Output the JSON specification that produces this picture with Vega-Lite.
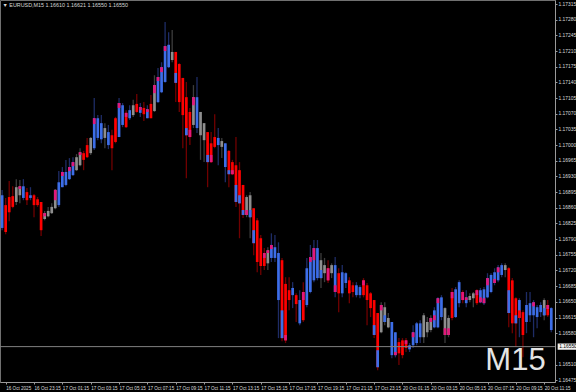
{
"$schema":"https://vega.github.io/schema/vega-lite/v6.json",
"width":555,"height":382,
"autosize":{"type":"none"},
"padding":{"left":0,"top":0,"right":21,"bottom":10},
"background":"#000000",
"title":{"text":"▼ EURUSD,M15  1.16610 1.16621 1.16550 1.16550","anchor":"start","orient":"top","offset":-8,"dx":3,"fontSize":5.4,"font":"Liberation Sans","fontWeight":"normal","color":"#d8d8d8"},
"config":{"view":{"stroke":"#707070","strokeWidth":1},"axis":{"grid":false,"domainColor":"#9a9a9a","tickColor":"#9a9a9a","labelColor":"#dcdcdc","labelFont":"Liberation Sans","labelFontSize":4.8,"tickSize":2,"title":null,"labelOverlap":false}},
"datasets":{
"segs":[
{"i":4,"a":1.16908,"b":1.16902,"col":"magenta"},
{"i":11,"a":1.16848,"b":1.16841,"col":"magenta"},
{"i":14,"a":1.16900,"b":1.16877,"col":"magenta"},
{"i":16,"a":1.16940,"b":1.16931,"col":"magenta"},
{"i":18,"a":1.16951,"b":1.16942,"col":"magenta"},
{"i":19,"a":1.16962,"b":1.16953,"col":"magenta"},
{"i":21,"a":1.16984,"b":1.16978,"col":"magenta"},
{"i":25,"a":1.17060,"b":1.17047,"col":"magenta"},
{"i":32,"a":1.17094,"b":1.17083,"col":"magenta"},
{"i":34,"a":1.17072,"b":1.17063,"col":"magenta"},
{"i":38,"a":1.17085,"b":1.17078,"col":"magenta"},
{"i":40,"a":1.17080,"b":1.17074,"col":"magenta"},
{"i":42,"a":1.17134,"b":1.17116,"col":"magenta"},
{"i":43,"a":1.17152,"b":1.17143,"col":"magenta"},
{"i":44,"a":1.17174,"b":1.17163,"col":"magenta"},
{"i":45,"a":1.17221,"b":1.17210,"col":"magenta"},
{"i":48,"a":1.17161,"b":1.17139,"col":"blue"},
{"i":51,"a":1.17038,"b":1.17022,"col":"blue"},
{"i":52,"a":1.17034,"b":1.17018,"col":"magenta"},
{"i":53,"a":1.17107,"b":1.17089,"col":"magenta"},
{"i":57,"a":1.16978,"b":1.16962,"col":"blue"},
{"i":58,"a":1.16978,"b":1.16962,"col":"magenta"},
{"i":63,"a":1.16944,"b":1.16935,"col":"blue"},
{"i":64,"a":1.16944,"b":1.16935,"col":"magenta"},
{"i":65,"a":1.16911,"b":1.16873,"col":"blue"},
{"i":66,"a":1.16888,"b":1.16870,"col":"blue"},
{"i":67,"a":1.16855,"b":1.16844,"col":"blue"},
{"i":68,"a":1.16855,"b":1.16844,"col":"magenta"},
{"i":69,"a":1.16855,"b":1.16839,"col":"blue"},
{"i":70,"a":1.16810,"b":1.16781,"col":"blue"},
{"i":73,"a":1.16759,"b":1.16748,"col":"magenta"},
{"i":74,"a":1.16765,"b":1.16759,"col":"magenta"},
{"i":75,"a":1.16777,"b":1.16768,"col":"magenta"},
{"i":78,"a":1.16631,"b":1.16569,"col":"blue"},
{"i":79,"a":1.16576,"b":1.16564,"col":"magenta"},
{"i":84,"a":1.16672,"b":1.16654,"col":"magenta"},
{"i":86,"a":1.16750,"b":1.16739,"col":"magenta"},
{"i":87,"a":1.16770,"b":1.16743,"col":"magenta"},
{"i":89,"a":1.16721,"b":1.16703,"col":"blue"},
{"i":91,"a":1.16725,"b":1.16698,"col":"magenta"},
{"i":93,"a":1.16687,"b":1.16672,"col":"magenta"},
{"i":101,"a":1.16698,"b":1.16687,"col":"magenta"},
{"i":104,"a":1.16598,"b":1.16576,"col":"blue"},
{"i":105,"a":1.16542,"b":1.16504,"col":"blue"},
{"i":106,"a":1.16643,"b":1.16631,"col":"magenta"},
{"i":107,"a":1.16620,"b":1.16605,"col":"blue"},
{"i":110,"a":1.16538,"b":1.16531,"col":"magenta"},
{"i":113,"a":1.16564,"b":1.16556,"col":"magenta"},
{"i":115,"a":1.16582,"b":1.16571,"col":"magenta"},
{"i":120,"a":1.16614,"b":1.16605,"col":"magenta"},
{"i":121,"a":1.16620,"b":1.16609,"col":"magenta"},
{"i":122,"a":1.16658,"b":1.16647,"col":"magenta"},
{"i":124,"a":1.16591,"b":1.16576,"col":"magenta"},
{"i":125,"a":1.16591,"b":1.16576,"col":"magenta"},
{"i":126,"a":1.16672,"b":1.16658,"col":"magenta"},
{"i":129,"a":1.16672,"b":1.16654,"col":"magenta"},
{"i":130,"a":1.16660,"b":1.16654,"col":"magenta"},
{"i":133,"a":1.16676,"b":1.16665,"col":"magenta"},
{"i":134,"a":1.16660,"b":1.16649,"col":"magenta"},
{"i":135,"a":1.16658,"b":1.16647,"col":"magenta"},
{"i":136,"a":1.16703,"b":1.16687,"col":"magenta"},
{"i":138,"a":1.16701,"b":1.16692,"col":"magenta"},
{"i":139,"a":1.16727,"b":1.16716,"col":"magenta"},
{"i":142,"a":1.16676,"b":1.16625,"col":"blue"},
{"i":144,"a":1.16620,"b":1.16602,"col":"blue"},
{"i":145,"a":1.16631,"b":1.16614,"col":"red"},
{"i":149,"a":1.16649,"b":1.16640,"col":"magenta"},
{"i":152,"a":1.16636,"b":1.16620,"col":"blue"},
{"i":153,"a":1.16643,"b":1.16634,"col":"magenta"}
]},
"data":{"values":[
{"i":-1,"o":1.16815,"h":1.16900,"l":1.16810,"c":1.16888,"col":"blue"},
{"i":0,"o":1.16866,"h":1.16882,"l":1.16801,"c":1.16806,"col":"red"},
{"i":1,"o":1.16884,"h":1.16920,"l":1.16830,"c":1.16850,"col":"red"},
{"i":2,"o":1.16886,"h":1.16908,"l":1.16859,"c":1.16862,"col":"red"},
{"i":3,"o":1.16906,"h":1.16924,"l":1.16866,"c":1.16873,"col":"gray"},
{"i":4,"o":1.16908,"h":1.16922,"l":1.16870,"c":1.16888,"col":"gray"},
{"i":5,"o":1.16882,"h":1.16924,"l":1.16877,"c":1.16908,"col":"blue"},
{"i":6,"o":1.16895,"h":1.16904,"l":1.16866,"c":1.16877,"col":"red"},
{"i":7,"o":1.16882,"h":1.16906,"l":1.16877,"c":1.16888,"col":"blue"},
{"i":8,"o":1.16888,"h":1.16891,"l":1.16839,"c":1.16866,"col":"red"},
{"i":9,"o":1.16879,"h":1.16884,"l":1.16862,"c":1.16866,"col":"red"},
{"i":10,"o":1.16873,"h":1.16873,"l":1.16797,"c":1.16810,"col":"red"},
{"i":11,"o":1.16848,"h":1.16853,"l":1.16832,"c":1.16835,"col":"gray"},
{"i":12,"o":1.16853,"h":1.16862,"l":1.16839,"c":1.16841,"col":"gray"},
{"i":13,"o":1.16862,"h":1.16870,"l":1.16846,"c":1.16848,"col":"gray"},
{"i":14,"o":1.16900,"h":1.16902,"l":1.16857,"c":1.16859,"col":"gray"},
{"i":15,"o":1.16866,"h":1.16942,"l":1.16862,"c":1.16917,"col":"blue"},
{"i":16,"o":1.16906,"h":1.16951,"l":1.16906,"c":1.16940,"col":"blue"},
{"i":17,"o":1.16911,"h":1.16967,"l":1.16908,"c":1.16940,"col":"blue"},
{"i":18,"o":1.16924,"h":1.16971,"l":1.16922,"c":1.16951,"col":"blue"},
{"i":19,"o":1.16933,"h":1.16973,"l":1.16931,"c":1.16962,"col":"blue"},
{"i":20,"o":1.16973,"h":1.16980,"l":1.16942,"c":1.16944,"col":"gray"},
{"i":21,"o":1.16984,"h":1.16993,"l":1.16953,"c":1.16955,"col":"gray"},
{"i":22,"o":1.16982,"h":1.16987,"l":1.16944,"c":1.16967,"col":"red"},
{"i":23,"o":1.17000,"h":1.17016,"l":1.16971,"c":1.16973,"col":"red"},
{"i":24,"o":1.17016,"h":1.17018,"l":1.16978,"c":1.16982,"col":"gray"},
{"i":25,"o":1.16993,"h":1.17105,"l":1.16989,"c":1.17060,"col":"blue"},
{"i":26,"o":1.17016,"h":1.17067,"l":1.17011,"c":1.17060,"col":"blue"},
{"i":27,"o":1.17013,"h":1.17067,"l":1.17004,"c":1.17049,"col":"blue"},
{"i":28,"o":1.17038,"h":1.17049,"l":1.16993,"c":1.17016,"col":"gray"},
{"i":29,"o":1.17000,"h":1.17045,"l":1.16991,"c":1.17029,"col":"blue"},
{"i":30,"o":1.17022,"h":1.17034,"l":1.16944,"c":1.16993,"col":"red"},
{"i":31,"o":1.17060,"h":1.17063,"l":1.17004,"c":1.17007,"col":"red"},
{"i":32,"o":1.17018,"h":1.17105,"l":1.17018,"c":1.17094,"col":"blue"},
{"i":33,"o":1.17045,"h":1.17094,"l":1.17040,"c":1.17089,"col":"blue"},
{"i":34,"o":1.17072,"h":1.17078,"l":1.17038,"c":1.17040,"col":"red"},
{"i":35,"o":1.17060,"h":1.17089,"l":1.17056,"c":1.17078,"col":"blue"},
{"i":36,"o":1.17089,"h":1.17101,"l":1.17063,"c":1.17067,"col":"gray"},
{"i":37,"o":1.17092,"h":1.17114,"l":1.17072,"c":1.17074,"col":"red"},
{"i":38,"o":1.17072,"h":1.17094,"l":1.17063,"c":1.17085,"col":"blue"},
{"i":39,"o":1.17083,"h":1.17096,"l":1.17054,"c":1.17069,"col":"red"},
{"i":40,"o":1.17060,"h":1.17089,"l":1.17060,"c":1.17080,"col":"blue"},
{"i":41,"o":1.17092,"h":1.17112,"l":1.17060,"c":1.17060,"col":"red"},
{"i":42,"o":1.17134,"h":1.17156,"l":1.17074,"c":1.17076,"col":"gray"},
{"i":43,"o":1.17096,"h":1.17172,"l":1.17094,"c":1.17152,"col":"blue"},
{"i":44,"o":1.17118,"h":1.17185,"l":1.17116,"c":1.17174,"col":"blue"},
{"i":45,"o":1.17141,"h":1.17275,"l":1.17139,"c":1.17221,"col":"blue"},
{"i":46,"o":1.17174,"h":1.17252,"l":1.17172,"c":1.17224,"col":"blue"},
{"i":47,"o":1.17208,"h":1.17257,"l":1.17185,"c":1.17190,"col":"gray"},
{"i":48,"o":1.17208,"h":1.17208,"l":1.17096,"c":1.17139,"col":"red"},
{"i":49,"o":1.17181,"h":1.17183,"l":1.17074,"c":1.17096,"col":"red"},
{"i":50,"o":1.17150,"h":1.17150,"l":1.16993,"c":1.17067,"col":"red"},
{"i":51,"o":1.17107,"h":1.17141,"l":1.16926,"c":1.17022,"col":"red"},
{"i":52,"o":1.17074,"h":1.17083,"l":1.17000,"c":1.17018,"col":"red"},
{"i":53,"o":1.17107,"h":1.17134,"l":1.17038,"c":1.17045,"col":"gray"},
{"i":54,"o":1.17038,"h":1.17152,"l":1.17027,"c":1.17107,"col":"blue"},
{"i":55,"o":1.17074,"h":1.17074,"l":1.16967,"c":1.17022,"col":"gray"},
{"i":56,"o":1.17049,"h":1.17049,"l":1.16962,"c":1.17011,"col":"gray"},
{"i":57,"o":1.17029,"h":1.17029,"l":1.16906,"c":1.16962,"col":"red"},
{"i":58,"o":1.17004,"h":1.17029,"l":1.16960,"c":1.16962,"col":"red"},
{"i":59,"o":1.17018,"h":1.17069,"l":1.16993,"c":1.16996,"col":"red"},
{"i":60,"o":1.17000,"h":1.17038,"l":1.16955,"c":1.17016,"col":"blue"},
{"i":61,"o":1.17009,"h":1.17016,"l":1.16971,"c":1.16996,"col":"gray"},
{"i":62,"o":1.16951,"h":1.17004,"l":1.16917,"c":1.17004,"col":"blue"},
{"i":63,"o":1.16987,"h":1.16989,"l":1.16906,"c":1.16935,"col":"red"},
{"i":64,"o":1.16962,"h":1.16967,"l":1.16933,"c":1.16935,"col":"red"},
{"i":65,"o":1.16955,"h":1.17018,"l":1.16862,"c":1.16873,"col":"red"},
{"i":66,"o":1.16944,"h":1.16962,"l":1.16792,"c":1.16870,"col":"red"},
{"i":67,"o":1.16911,"h":1.16911,"l":1.16837,"c":1.16844,"col":"red"},
{"i":68,"o":1.16884,"h":1.16888,"l":1.16839,"c":1.16844,"col":"gray"},
{"i":69,"o":1.16888,"h":1.16895,"l":1.16792,"c":1.16839,"col":"gray"},
{"i":70,"o":1.16859,"h":1.16859,"l":1.16754,"c":1.16781,"col":"red"},
{"i":71,"o":1.16832,"h":1.16837,"l":1.16716,"c":1.16739,"col":"red"},
{"i":72,"o":1.16792,"h":1.16799,"l":1.16710,"c":1.16730,"col":"red"},
{"i":73,"o":1.16759,"h":1.16770,"l":1.16721,"c":1.16730,"col":"red"},
{"i":74,"o":1.16765,"h":1.16772,"l":1.16721,"c":1.16736,"col":"gray"},
{"i":75,"o":1.16748,"h":1.16803,"l":1.16739,"c":1.16777,"col":"blue"},
{"i":76,"o":1.16748,"h":1.16799,"l":1.16739,"c":1.16772,"col":"blue"},
{"i":77,"o":1.16654,"h":1.16783,"l":1.16569,"c":1.16759,"col":"blue"},
{"i":78,"o":1.16743,"h":1.16748,"l":1.16562,"c":1.16569,"col":"red"},
{"i":79,"o":1.16690,"h":1.16705,"l":1.16558,"c":1.16564,"col":"red"},
{"i":80,"o":1.16676,"h":1.16705,"l":1.16631,"c":1.16654,"col":"red"},
{"i":81,"o":1.16665,"h":1.16694,"l":1.16636,"c":1.16681,"col":"blue"},
{"i":82,"o":1.16665,"h":1.16669,"l":1.16605,"c":1.16645,"col":"red"},
{"i":83,"o":1.16602,"h":1.16676,"l":1.16598,"c":1.16654,"col":"blue"},
{"i":84,"o":1.16672,"h":1.16694,"l":1.16605,"c":1.16609,"col":"red"},
{"i":85,"o":1.16643,"h":1.16748,"l":1.16638,"c":1.16725,"col":"blue"},
{"i":86,"o":1.16672,"h":1.16777,"l":1.16669,"c":1.16750,"col":"blue"},
{"i":87,"o":1.16698,"h":1.16788,"l":1.16694,"c":1.16770,"col":"blue"},
{"i":88,"o":1.16703,"h":1.16788,"l":1.16698,"c":1.16770,"col":"blue"},
{"i":89,"o":1.16743,"h":1.16759,"l":1.16681,"c":1.16703,"col":"gray"},
{"i":90,"o":1.16732,"h":1.16748,"l":1.16694,"c":1.16714,"col":"gray"},
{"i":91,"o":1.16725,"h":1.16743,"l":1.16692,"c":1.16698,"col":"red"},
{"i":92,"o":1.16732,"h":1.16736,"l":1.16703,"c":1.16714,"col":"gray"},
{"i":93,"o":1.16672,"h":1.16750,"l":1.16660,"c":1.16732,"col":"blue"},
{"i":94,"o":1.16714,"h":1.16725,"l":1.16627,"c":1.16669,"col":"red"},
{"i":95,"o":1.16669,"h":1.16732,"l":1.16660,"c":1.16716,"col":"blue"},
{"i":96,"o":1.16692,"h":1.16716,"l":1.16681,"c":1.16714,"col":"blue"},
{"i":97,"o":1.16698,"h":1.16705,"l":1.16647,"c":1.16669,"col":"red"},
{"i":98,"o":1.16687,"h":1.16694,"l":1.16660,"c":1.16672,"col":"red"},
{"i":99,"o":1.16665,"h":1.16694,"l":1.16660,"c":1.16687,"col":"blue"},
{"i":100,"o":1.16665,"h":1.16687,"l":1.16658,"c":1.16683,"col":"blue"},
{"i":101,"o":1.16698,"h":1.16703,"l":1.16660,"c":1.16665,"col":"red"},
{"i":102,"o":1.16687,"h":1.16692,"l":1.16598,"c":1.16654,"col":"red"},
{"i":103,"o":1.16669,"h":1.16672,"l":1.16616,"c":1.16636,"col":"red"},
{"i":104,"o":1.16654,"h":1.16654,"l":1.16569,"c":1.16576,"col":"red"},
{"i":105,"o":1.16625,"h":1.16625,"l":1.16497,"c":1.16504,"col":"red"},
{"i":106,"o":1.16643,"h":1.16649,"l":1.16580,"c":1.16582,"col":"gray"},
{"i":107,"o":1.16638,"h":1.16649,"l":1.16598,"c":1.16605,"col":"gray"},
{"i":108,"o":1.16614,"h":1.16625,"l":1.16591,"c":1.16593,"col":"gray"},
{"i":109,"o":1.16531,"h":1.16605,"l":1.16524,"c":1.16605,"col":"blue"},
{"i":110,"o":1.16531,"h":1.16582,"l":1.16526,"c":1.16582,"col":"blue"},
{"i":111,"o":1.16560,"h":1.16569,"l":1.16509,"c":1.16535,"col":"red"},
{"i":112,"o":1.16564,"h":1.16569,"l":1.16524,"c":1.16531,"col":"red"},
{"i":113,"o":1.16564,"h":1.16569,"l":1.16538,"c":1.16547,"col":"red"},
{"i":114,"o":1.16544,"h":1.16558,"l":1.16538,"c":1.16553,"col":"blue"},
{"i":115,"o":1.16553,"h":1.16598,"l":1.16547,"c":1.16582,"col":"blue"},
{"i":116,"o":1.16558,"h":1.16605,"l":1.16553,"c":1.16602,"col":"blue"},
{"i":117,"o":1.16571,"h":1.16609,"l":1.16558,"c":1.16602,"col":"blue"},
{"i":118,"o":1.16620,"h":1.16625,"l":1.16558,"c":1.16571,"col":"gray"},
{"i":119,"o":1.16605,"h":1.16616,"l":1.16571,"c":1.16582,"col":"gray"},
{"i":120,"o":1.16614,"h":1.16620,"l":1.16582,"c":1.16587,"col":"gray"},
{"i":121,"o":1.16593,"h":1.16638,"l":1.16591,"c":1.16631,"col":"blue"},
{"i":122,"o":1.16593,"h":1.16660,"l":1.16591,"c":1.16658,"col":"blue"},
{"i":123,"o":1.16616,"h":1.16665,"l":1.16609,"c":1.16660,"col":"blue"},
{"i":124,"o":1.16636,"h":1.16638,"l":1.16558,"c":1.16576,"col":"gray"},
{"i":125,"o":1.16614,"h":1.16620,"l":1.16571,"c":1.16576,"col":"gray"},
{"i":126,"o":1.16672,"h":1.16681,"l":1.16609,"c":1.16614,"col":"red"},
{"i":127,"o":1.16616,"h":1.16683,"l":1.16614,"c":1.16678,"col":"blue"},
{"i":128,"o":1.16647,"h":1.16698,"l":1.16638,"c":1.16694,"col":"blue"},
{"i":129,"o":1.16672,"h":1.16676,"l":1.16647,"c":1.16654,"col":"red"},
{"i":130,"o":1.16647,"h":1.16676,"l":1.16638,"c":1.16660,"col":"blue"},
{"i":131,"o":1.16663,"h":1.16669,"l":1.16649,"c":1.16654,"col":"gray"},
{"i":132,"o":1.16669,"h":1.16672,"l":1.16638,"c":1.16658,"col":"gray"},
{"i":133,"o":1.16676,"h":1.16678,"l":1.16643,"c":1.16647,"col":"red"},
{"i":134,"o":1.16649,"h":1.16681,"l":1.16647,"c":1.16676,"col":"blue"},
{"i":135,"o":1.16647,"h":1.16683,"l":1.16643,"c":1.16678,"col":"blue"},
{"i":136,"o":1.16660,"h":1.16714,"l":1.16658,"c":1.16703,"col":"blue"},
{"i":137,"o":1.16672,"h":1.16714,"l":1.16669,"c":1.16710,"col":"blue"},
{"i":138,"o":1.16692,"h":1.16725,"l":1.16687,"c":1.16716,"col":"blue"},
{"i":139,"o":1.16698,"h":1.16732,"l":1.16694,"c":1.16727,"col":"blue"},
{"i":140,"o":1.16710,"h":1.16736,"l":1.16705,"c":1.16732,"col":"blue"},
{"i":141,"o":1.16732,"h":1.16736,"l":1.16705,"c":1.16721,"col":"gray"},
{"i":142,"o":1.16725,"h":1.16727,"l":1.16593,"c":1.16625,"col":"red"},
{"i":143,"o":1.16698,"h":1.16703,"l":1.16580,"c":1.16602,"col":"red"},
{"i":144,"o":1.16658,"h":1.16660,"l":1.16549,"c":1.16602,"col":"red"},
{"i":145,"o":1.16614,"h":1.16658,"l":1.16571,"c":1.16654,"col":"blue"},
{"i":146,"o":1.16627,"h":1.16631,"l":1.16526,"c":1.16576,"col":"red"},
{"i":147,"o":1.16605,"h":1.16672,"l":1.16580,"c":1.16643,"col":"blue"},
{"i":148,"o":1.16620,"h":1.16672,"l":1.16605,"c":1.16647,"col":"blue"},
{"i":149,"o":1.16620,"h":1.16654,"l":1.16571,"c":1.16649,"col":"blue"},
{"i":150,"o":1.16616,"h":1.16643,"l":1.16591,"c":1.16638,"col":"blue"},
{"i":151,"o":1.16627,"h":1.16649,"l":1.16616,"c":1.16643,"col":"blue"},
{"i":152,"o":1.16654,"h":1.16658,"l":1.16609,"c":1.16620,"col":"gray"},
{"i":153,"o":1.16643,"h":1.16654,"l":1.16616,"c":1.16620,"col":"red"},
{"i":154,"o":1.16587,"h":1.16638,"l":1.16582,"c":1.16636,"col":"blue"}
]},
"layer":[
{"mark":{"type":"rule","strokeWidth":1.3},
 "encoding":{
  "x":{"field":"i","type":"quantitative","scale":{"domain":[-1.6,155.05],"nice":false,"zero":false},
   "axis":{"orient":"bottom","values":[0,8,16,24,32,40,48,56,64,72,80,88,96,104,112,120,128,136,144,152],"labelAlign":"left","labelDx":-2,"labelPadding":1,"labelOverlap":false,"labelBound":false,"labelFlush":false,"labelFontSize":4.6,
   "labelExpr":"['16 Oct 2025','16 Oct 23:15','17 Oct 01:15','17 Oct 03:15','17 Oct 05:15','17 Oct 07:15','17 Oct 09:15','17 Oct 11:15','17 Oct 13:15','17 Oct 15:15','17 Oct 17:15','17 Oct 19:15','17 Oct 21:15','17 Oct 23:15','20 Oct 01:15','20 Oct 03:15','20 Oct 05:15','20 Oct 07:15','20 Oct 09:15','20 Oct 11:15'][round(datum.value/8)]"}},
  "y":{"field":"l","type":"quantitative","scale":{"domain":[1.16471,1.17324],"nice":false,"zero":false},
   "axis":{"orient":"right","format":".5f","labelPadding":1,"labelOverlap":false,"labelFlush":false,"labelBound":false,"labelFontSize":4.9,
   "values":[1.16475,1.1651,1.1658,1.16615,1.1665,1.16685,1.1672,1.16755,1.1679,1.16825,1.1686,1.16895,1.1693,1.16965,1.17,1.17035,1.1707,1.17105,1.1714,1.17175,1.1721,1.17245,1.1728,1.17315]}},
  "y2":{"field":"h"},
  "color":{"field":"col","type":"nominal","legend":null,"scale":{"domain":["blue","red","gray"],"range":["#1e2c66","#700000","#3c3c3c"]}}
 }},
{"mark":{"type":"rule","strokeWidth":2.7},
 "encoding":{
  "x":{"field":"i","type":"quantitative",
   "axis":{"orient":"bottom","values":[0,8,16,24,32,40,48,56,64,72,80,88,96,104,112,120,128,136,144,152],"labelAlign":"left","labelDx":-2,"labelPadding":1,"labelOverlap":false,"labelBound":false,"labelFlush":false,"labelFontSize":4.6,
   "labelExpr":"['16 Oct 2025','16 Oct 23:15','17 Oct 01:15','17 Oct 03:15','17 Oct 05:15','17 Oct 07:15','17 Oct 09:15','17 Oct 11:15','17 Oct 13:15','17 Oct 15:15','17 Oct 17:15','17 Oct 19:15','17 Oct 21:15','17 Oct 23:15','20 Oct 01:15','20 Oct 03:15','20 Oct 05:15','20 Oct 07:15','20 Oct 09:15','20 Oct 11:15'][round(datum.value/8)]"}},
  "y":{"field":"o","type":"quantitative",
   "axis":{"orient":"right","format":".5f","labelPadding":1,"labelOverlap":false,"labelFlush":false,"labelBound":false,"labelFontSize":4.9,
   "values":[1.16475,1.1651,1.1658,1.16615,1.1665,1.16685,1.1672,1.16755,1.1679,1.16825,1.1686,1.16895,1.1693,1.16965,1.17,1.17035,1.1707,1.17105,1.1714,1.17175,1.1721,1.17245,1.1728,1.17315]}},
  "y2":{"field":"c"},
  "color":{"field":"col","type":"nominal","legend":null,"scale":{"domain":["blue","red","gray"],"range":["#3d6ee8","#ff0000","#8e8e8e"]}}
 }},
{"data":{"name":"segs"},
 "mark":{"type":"rule","strokeWidth":2.7},
 "encoding":{
  "x":{"field":"i","type":"quantitative",
   "axis":{"orient":"bottom","values":[0,8,16,24,32,40,48,56,64,72,80,88,96,104,112,120,128,136,144,152],"labelAlign":"left","labelDx":-2,"labelPadding":1,"labelOverlap":false,"labelBound":false,"labelFlush":false,"labelFontSize":4.6,
   "labelExpr":"['16 Oct 2025','16 Oct 23:15','17 Oct 01:15','17 Oct 03:15','17 Oct 05:15','17 Oct 07:15','17 Oct 09:15','17 Oct 11:15','17 Oct 13:15','17 Oct 15:15','17 Oct 17:15','17 Oct 19:15','17 Oct 21:15','17 Oct 23:15','20 Oct 01:15','20 Oct 03:15','20 Oct 05:15','20 Oct 07:15','20 Oct 09:15','20 Oct 11:15'][round(datum.value/8)]"}},
  "y":{"field":"a","type":"quantitative",
   "axis":{"orient":"right","format":".5f","labelPadding":1,"labelOverlap":false,"labelFlush":false,"labelBound":false,"labelFontSize":4.9,
   "values":[1.16475,1.1651,1.1658,1.16615,1.1665,1.16685,1.1672,1.16755,1.1679,1.16825,1.1686,1.16895,1.1693,1.16965,1.17,1.17035,1.1707,1.17105,1.1714,1.17175,1.1721,1.17245,1.1728,1.17315]}},
  "y2":{"field":"b"},
  "color":{"field":"col","type":"nominal","legend":null,"scale":{"domain":["magenta","blue","red"],"range":["#e3177b","#3d6ee8","#ff0000"]}}
 }},
{"data":{"values":[{"price":1.1655}]},
 "mark":{"type":"rule","color":"#808080","strokeWidth":1},
 "encoding":{"x":{"value":0},"x2":{"value":555},
  "y":{"field":"price","type":"quantitative",
   "axis":{"orient":"right","format":".5f","labelPadding":1,"labelOverlap":false,"labelFlush":false,"labelBound":false,"labelFontSize":4.9,
   "values":[1.16475,1.1651,1.1658,1.16615,1.1665,1.16685,1.1672,1.16755,1.1679,1.16825,1.1686,1.16895,1.1693,1.16965,1.17,1.17035,1.1707,1.17105,1.1714,1.17175,1.1721,1.17245,1.1728,1.17315]}}}},
{"data":{"values":[{"label":"M15"}]},
 "mark":{"type":"text","font":"Liberation Sans","fontSize":31,"color":"#e4e4e4","align":"center","baseline":"alphabetic"},
 "encoding":{
  "x":{"datum":143.9,"type":"quantitative",
   "axis":{"orient":"bottom","values":[0,8,16,24,32,40,48,56,64,72,80,88,96,104,112,120,128,136,144,152],"labelAlign":"left","labelDx":-2,"labelPadding":1,"labelOverlap":false,"labelBound":false,"labelFlush":false,"labelFontSize":4.6,
   "labelExpr":"['16 Oct 2025','16 Oct 23:15','17 Oct 01:15','17 Oct 03:15','17 Oct 05:15','17 Oct 07:15','17 Oct 09:15','17 Oct 11:15','17 Oct 13:15','17 Oct 15:15','17 Oct 17:15','17 Oct 19:15','17 Oct 21:15','17 Oct 23:15','20 Oct 01:15','20 Oct 03:15','20 Oct 05:15','20 Oct 07:15','20 Oct 09:15','20 Oct 11:15'][round(datum.value/8)]"}},
  "y":{"datum":1.16497,"type":"quantitative",
   "axis":{"orient":"right","format":".5f","labelPadding":1,"labelOverlap":false,"labelFlush":false,"labelBound":false,"labelFontSize":4.9,
   "values":[1.16475,1.1651,1.1658,1.16615,1.1665,1.16685,1.1672,1.16755,1.1679,1.16825,1.1686,1.16895,1.1693,1.16965,1.17,1.17035,1.1707,1.17105,1.1714,1.17175,1.1721,1.17245,1.1728,1.17315]}},
  "text":{"field":"label"}}},
{"data":{"values":[{"label":"1.16550"}]},
 "mark":{"type":"rect","color":"#f0f0f0","clip":false},
 "encoding":{
  "x":{"datum":155.8,"type":"quantitative",
   "axis":{"orient":"bottom","values":[0,8,16,24,32,40,48,56,64,72,80,88,96,104,112,120,128,136,144,152],"labelAlign":"left","labelDx":-2,"labelPadding":1,"labelOverlap":false,"labelBound":false,"labelFlush":false,"labelFontSize":4.6,
   "labelExpr":"['16 Oct 2025','16 Oct 23:15','17 Oct 01:15','17 Oct 03:15','17 Oct 05:15','17 Oct 07:15','17 Oct 09:15','17 Oct 11:15','17 Oct 13:15','17 Oct 15:15','17 Oct 17:15','17 Oct 19:15','17 Oct 21:15','17 Oct 23:15','20 Oct 01:15','20 Oct 03:15','20 Oct 05:15','20 Oct 07:15','20 Oct 09:15','20 Oct 11:15'][round(datum.value/8)]"}},
  "x2":{"datum":162.5},
  "y":{"datum":1.16543,"type":"quantitative",
   "axis":{"orient":"right","format":".5f","labelPadding":1,"labelOverlap":false,"labelFlush":false,"labelBound":false,"labelFontSize":4.9,
   "values":[1.16475,1.1651,1.1658,1.16615,1.1665,1.16685,1.1672,1.16755,1.1679,1.16825,1.1686,1.16895,1.1693,1.16965,1.17,1.17035,1.1707,1.17105,1.1714,1.17175,1.1721,1.17245,1.1728,1.17315]}},
  "y2":{"datum":1.16557}}},
{"data":{"values":[{"label":"1.16550"}]},
 "mark":{"type":"text","color":"#000000","fontSize":4.9,"font":"Liberation Sans","align":"left","baseline":"middle","dx":1.5,"clip":false},
 "encoding":{
  "x":{"datum":155.8,"type":"quantitative",
   "axis":{"orient":"bottom","values":[0,8,16,24,32,40,48,56,64,72,80,88,96,104,112,120,128,136,144,152],"labelAlign":"left","labelDx":-2,"labelPadding":1,"labelOverlap":false,"labelBound":false,"labelFlush":false,"labelFontSize":4.6,
   "labelExpr":"['16 Oct 2025','16 Oct 23:15','17 Oct 01:15','17 Oct 03:15','17 Oct 05:15','17 Oct 07:15','17 Oct 09:15','17 Oct 11:15','17 Oct 13:15','17 Oct 15:15','17 Oct 17:15','17 Oct 19:15','17 Oct 21:15','17 Oct 23:15','20 Oct 01:15','20 Oct 03:15','20 Oct 05:15','20 Oct 07:15','20 Oct 09:15','20 Oct 11:15'][round(datum.value/8)]"}},
  "y":{"datum":1.1655,"type":"quantitative",
   "axis":{"orient":"right","format":".5f","labelPadding":1,"labelOverlap":false,"labelFlush":false,"labelBound":false,"labelFontSize":4.9,
   "values":[1.16475,1.1651,1.1658,1.16615,1.1665,1.16685,1.1672,1.16755,1.1679,1.16825,1.1686,1.16895,1.1693,1.16965,1.17,1.17035,1.1707,1.17105,1.1714,1.17175,1.1721,1.17245,1.1728,1.17315]}},
  "text":{"field":"label"}}}
],
"resolve":{"scale":{"color":"independent"}}
}
